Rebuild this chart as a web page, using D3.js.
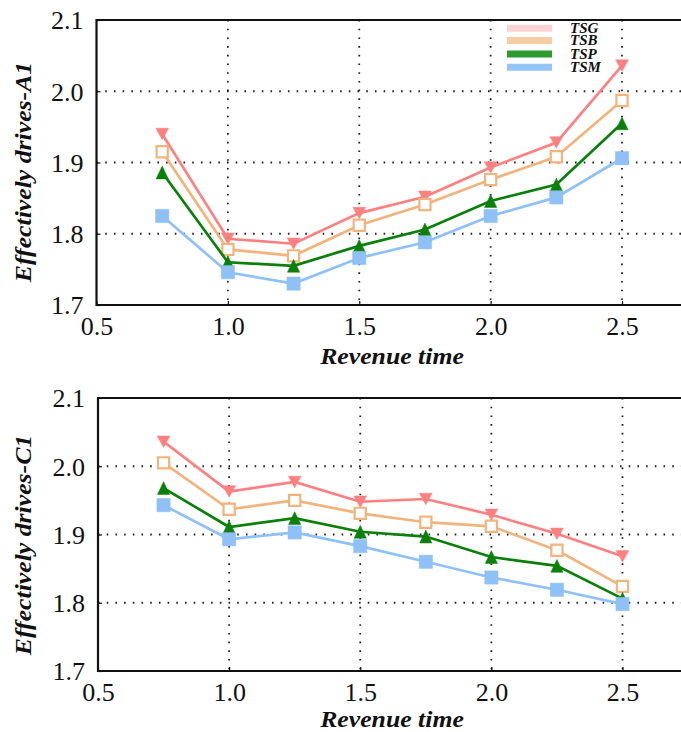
<!DOCTYPE html>
<html>
<head>
<meta charset="utf-8">
<script src="https://cdn.jsdelivr.net/npm/d3@7"></script>
<style>
  html, body { margin: 0; padding: 0; background: #fff; }
  svg { display: block; }
</style>
</head>
<body>
<svg id="chart" width="681" height="732"></svg>
<script>
// Revenue time values shared by both panels
const revenueTime = [0.75, 1.0, 1.25, 1.5, 1.75, 2.0, 2.25, 2.5];
const xTicks = [0.5, 1.0, 1.5, 2.0, 2.5];
const yTicks = [1.7, 1.8, 1.9, 2.0, 2.1];
const seriesNames = ["TSG", "TSB", "TSP", "TSM"];

// Panel A1
const a1TSG = [1.940, 1.793, 1.786, 1.829, 1.852, 1.893, 1.928, 2.036];
const a1TSB = [1.915, 1.778, 1.769, 1.812, 1.841, 1.876, 1.908, 1.987];
const a1TSP = [1.886, 1.760, 1.755, 1.783, 1.806, 1.846, 1.869, 1.955];
const a1TSM = [1.825, 1.746, 1.730, 1.766, 1.788, 1.825, 1.851, 1.906];

// Panel C1
const c1TSG = [2.036, 1.963, 1.977, 1.948, 1.952, 1.929, 1.901, 1.868];
const c1TSB = [2.005, 1.937, 1.950, 1.931, 1.918, 1.912, 1.877, 1.824];
const c1TSP = [1.968, 1.911, 1.924, 1.904, 1.897, 1.867, 1.854, 1.806];
const c1TSM = [1.943, 1.893, 1.903, 1.883, 1.860, 1.837, 1.819, 1.798];

const styles = {
  TSG: { color: "#ff8080", legend: "#ffd3d3", marker: "triDown", fill: true },
  TSB: { color: "#f2b47c", legend: "#f5cca4", marker: "square", fill: false },
  TSP: { color: "#0a800a", legend: "#2f9a2f", marker: "triUp", fill: true },
  TSM: { color: "#8fc1f7", legend: "#93c5f7", marker: "square", fill: true }
};

const panels = [
  { label: "Effectively drives-A1", top: 20, bottom: 305, left: 96.5, x25: 622,
    values: [a1TSG, a1TSB, a1TSP, a1TSM], legend: true,
    xLabelY: 364, tickLabelY: 335, yLabelMid: 172 },
  { label: "Effectively drives-C1", top: 398, bottom: 671, left: 98, x25: 622.5,
    values: [c1TSG, c1TSB, c1TSP, c1TSM], legend: false,
    xLabelY: 727, tickLabelY: 701, yLabelMid: 545 }
];

const svg = d3.select("#chart");
const W = 681;
const serif = '"Liberation Serif", "Times New Roman", serif';

const symTriDown = {
  draw(ctx, size) {
    const s = Math.sqrt(size);
    const h = s * 0.9;
    ctx.moveTo(-s / 2, -h / 2);
    ctx.lineTo(s / 2, -h / 2);
    ctx.lineTo(0, h / 2);
    ctx.closePath();
  }
};
const symTriUp = {
  draw(ctx, size) {
    const s = Math.sqrt(size);
    const h = s * 1.05;
    ctx.moveTo(-s / 2, h / 2);
    ctx.lineTo(s / 2, h / 2);
    ctx.lineTo(0, -h / 2);
    ctx.closePath();
  }
};

panels.forEach(p => {
  // x domain continues past 2.5 and runs off the right edge
  const x = d3.scaleLinear().domain([0.5, 2.5]).range([p.left, p.x25]);
  const y = d3.scaleLinear().domain([1.7, 2.1]).range([p.bottom, p.top]);
  const g = svg.append("g");

  // dotted grid
  g.append("g").selectAll("line").data(xTicks.filter(t => t > 0.5))
    .join("line")
    .attr("x1", d => x(d)).attr("x2", d => x(d))
    .attr("y1", p.top).attr("y2", p.bottom)
    .attr("stroke", "#222").attr("stroke-width", 1.8)
    .attr("stroke-dasharray", "1.6,7.1");
  g.append("g").selectAll("line").data(yTicks.filter(t => t > 1.75 && t < 2.05))
    .join("line")
    .attr("x1", p.left).attr("x2", W)
    .attr("y1", d => y(d)).attr("y2", d => y(d))
    .attr("stroke", "#222").attr("stroke-width", 1.8)
    .attr("stroke-dasharray", "1.6,7.1");

  // axes: left and bottom with inward ticks
  const yAxis = d3.axisLeft(y).tickValues(yTicks).tickSize(-4)
    .tickFormat(d3.format(".1f"));
  const yg = g.append("g").attr("transform", `translate(${p.left},0)`).call(yAxis);
  yg.attr("font-family", serif).attr("font-size", 26);
  yg.select(".domain").remove();
  yg.selectAll("line").attr("stroke", "#111").attr("stroke-width", 1.2);
  yg.selectAll("text").attr("font-family", serif).attr("font-size", 26)
    .attr("fill", "#111").attr("dy", "0.34em").attr("x", -13);

  const xAxis = d3.axisBottom(x).tickValues(xTicks).tickSize(-4).tickFormat(d3.format(".1f"));
  const xg = g.append("g").attr("transform", `translate(0,${p.bottom})`).call(xAxis);
  xg.attr("font-family", serif).attr("font-size", 26);
  xg.select(".domain").remove();
  xg.selectAll("line").attr("stroke", "#111").attr("stroke-width", 1.2);
  xg.selectAll("text").attr("font-family", serif).attr("font-size", 26)
    .attr("fill", "#111").attr("y", p.tickLabelY - p.bottom).attr("dy", 0);

  // frame: left, bottom, top
  g.append("path")
    .attr("d", `M${W},${p.top}H${p.left}V${p.bottom}H${W}`)
    .attr("fill", "none").attr("stroke", "#111").attr("stroke-width", 2.2);

  // series lines and markers
  seriesNames.forEach((name, i) => {
    const st = styles[name];
    const pts = revenueTime.map((t, j) => [t, p.values[i][j]]);
    g.append("path").datum(pts)
      .attr("d", d3.line().x(d => x(d[0])).y(d => y(d[1])))
      .attr("fill", "none").attr("stroke", st.color).attr("stroke-width", 2.7);
    let sym;
    if (st.marker === "triDown") sym = d3.symbol(symTriDown, 165);
    else if (st.marker === "triUp") sym = d3.symbol(symTriUp, 150);
    else sym = d3.symbol(d3.symbolSquare, st.fill ? 177 : 125);
    g.append("g").selectAll("path").data(pts).join("path")
      .attr("transform", d => `translate(${x(d[0])},${y(d[1])})`)
      .attr("d", sym)
      .attr("fill", st.fill ? st.color : "#fff")
      .attr("stroke", st.color)
      .attr("stroke-width", st.fill ? 0.5 : 2.2);
  });

  // y label (slightly widened Times-style bold italic)
  g.append("text")
    .attr("transform", `translate(31,${p.yLabelMid}) rotate(-90) scale(1.12,1)`)
    .attr("text-anchor", "middle")
    .attr("font-family", serif).attr("font-size", 23)
    .attr("font-weight", "bold").attr("font-style", "italic")
    .attr("fill", "#111")
    .text(p.label);

  // x label
  g.append("text")
    .attr("transform", `translate(392,${p.xLabelY}) scale(1.12,1)`)
    .attr("text-anchor", "middle")
    .attr("font-family", serif).attr("font-size", 23)
    .attr("font-weight", "bold").attr("font-style", "italic")
    .attr("fill", "#111")
    .text("Revenue time");

  if (p.legend) {
    const lg = g.append("g");
    const rowsY = [28.3, 40.5, 54, 67.3];
    seriesNames.forEach((name, i) => {
      lg.append("line")
        .attr("x1", 507).attr("x2", 552)
        .attr("y1", rowsY[i]).attr("y2", rowsY[i])
        .attr("stroke", styles[name].legend).attr("stroke-width", 7);
      lg.append("text")
        .attr("x", 570).attr("y", rowsY[i]).attr("dy", "0.33em")
        .attr("font-family", serif).attr("font-size", 15)
        .attr("font-weight", "bold").attr("font-style", "italic")
        .attr("fill", "#111")
        .text(name);
    });
  }
});
</script>
</body>
</html>
